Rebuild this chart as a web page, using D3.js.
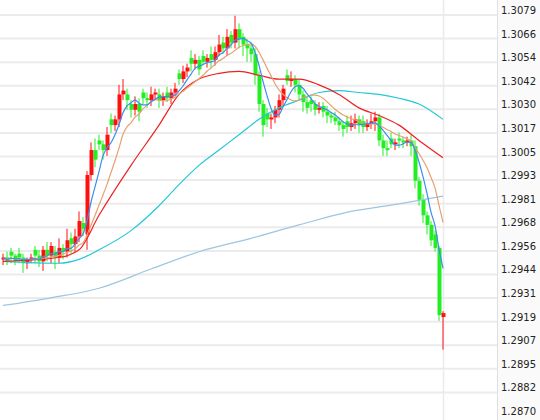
<!DOCTYPE html>
<html><head><meta charset="utf-8">
<script src="https://cdn.jsdelivr.net/npm/d3@7"></script>
<style>body{margin:0;background:#fff}svg{display:block}</style></head>
<body><svg id="c" width="540" height="420"></svg>
<script>
const closes=[1.2950,1.2948,1.2951,1.2948,1.2950,1.2947,1.2949,1.2950,
1.2951,1.2948,1.2954,1.2951,1.2956,1.2950,1.2955,1.2953,1.2959,1.2957,
1.2961,1.2969,1.2965,1.2993,1.3006,1.3001,1.3009,1.3006,1.3014,1.3019,1.3022,
1.3035,1.3037,1.3032,1.3027,1.3030,1.3026,1.3033,1.3032,1.3035,1.3036,1.3032,1.3034,1.3033,
1.3036,1.3038,1.3043,1.3047,1.3049,1.3051,1.3053,1.3048,1.3052,1.3054,1.3053,1.3057,1.3061,
1.3059,1.3065,1.3062,1.3069,1.3064,1.3061,1.3059,1.3056,1.3045,1.3030,1.3019,1.3022,
1.3023,1.3027,1.3032,1.3038,1.3042,1.3043,1.3040,1.3035,1.3031,1.3028,1.3030,1.3027,
1.3028,1.3026,1.3024,1.3023,1.3021,1.3019,1.3017,1.3018,1.3020,1.3022,1.3019,1.3018,
1.3020,1.3021,1.3023,1.3011,1.3007,1.3006,1.3009,1.3010,1.3011,1.3010,1.3011,1.3008,
1.2990,1.2980,1.2972,1.2967,1.2959,1.2955,1.2920,1.2921];
// opens that differ from the previous close
const openOverrides={0:1.2949,2:1.2953,4:1.2952,8:1.2954,11:1.2954,13:1.2953,17:1.2960,20:1.2968,21:1.2962,
24:1.3011,27:1.3022,31:1.3035,32:1.3030,35:1.3036,39:1.3035,41:1.3036,44:1.3046,47:1.3054,50:1.3055,
52:1.3056,55:1.3062,57:1.3066,60:1.3065,66:1.3025,71:1.3045,77:1.3032,80:1.3029,86:1.3021,90:1.3021,
97:1.3012,99:1.3012,108:1.2962,110:1.2919};
const opens=closes.map((c,i)=>openOverrides[i]!==undefined?openOverrides[i]:closes[i-1]);
const wickUp=[2,3,2,1,3,2,1,2,2,3,2,4,2,3,5,2,6,3,4,5,3,2,4,6,3,2,4,3,2,5,6,3,2,4,3,2,3,4,2,3,2,3,
2,3,2,3,2,4,3,2,3,2,4,3,5,3,4,2,7,3,2,3,2,3,2,2,3,2,2,3,2,3,4,2,3,2,3,2,2,3,2,3,2,3,2,2,3,4,
3,2,3,2,4,3,2,3,4,3,2,3,2,2,3,3,2,3,2,2,2,1,1];
const wickDn=[3,2,4,2,3,5,3,2,4,3,5,3,4,6,3,4,3,5,4,3,4,8,3,4,3,5,3,4,3,4,3,5,4,3,5,3,4,3,3,4,3,2,
3,2,3,2,3,4,3,3,2,3,4,3,2,3,4,3,3,5,6,7,4,5,4,6,4,5,3,4,3,2,3,4,3,5,3,4,3,2,3,4,3,2,3,4,3,2,
3,4,3,2,3,5,3,4,3,2,3,4,3,2,5,4,3,4,5,3,2,3,17];
const maIdxA=[0,14,19,24,32,39,44,49,54,59,64,69,74,79,84,89,94,99,104,110];
const maSlow=[1.2948,1.2950,1.2954,1.2972,1.2998,1.3019,1.3035,1.3043,1.3046,1.3047,1.3045,1.3043,1.3043,1.3040,1.3035,1.3028,1.3024,1.3019,1.3011,1.3002];
const maLong=[1.2948,1.2947,1.2949,1.2954,1.2964,1.2977,1.2988,1.2998,1.3006,1.3014,1.3022,1.3028,1.3032,1.3036,1.3037,1.3036,1.3035,1.3033,1.3030,1.3022];
const maIdxB=[0,12,24,37,49,62,74,87,99,110];
const maBase=[1.2925,1.2929,1.2934,1.2944,1.2953,1.2960,1.2967,1.2974,1.2978,1.2982];
const ticks=[1.3079,1.3066,1.3054,1.3042,1.3030,1.3017,1.3005,1.2993,1.2981,1.2968,1.2956,1.2944,1.2931,1.2919,1.2907,1.2895,1.2882,1.2870];

const svg=d3.select("#c");
const x=d3.scaleLinear().domain([0,110]).range([3,443]);
const y=d3.scaleLinear().domain([1.2870,1.3079]).range([411,10]);
svg.append("rect").attr("x",497).attr("y",0).attr("width",43).attr("height",420).attr("fill","#fafafa");
svg.append("line").attr("x1",497.5).attr("x2",497.5).attr("y1",0).attr("y2",420).attr("stroke","#e0e0e0");
ticks.forEach((t,i)=>{
  const yy=10+i*(401/17);
  if(i<17) svg.append("line").attr("x1",0).attr("x2",497).attr("y1",yy+5).attr("y2",yy+5).attr("stroke","#ebebeb").attr("stroke-width",2);
  svg.append("text").attr("x",501).attr("y",yy+4).attr("font-family","Verdana, DejaVu Sans").attr("font-size",10).attr("fill","#222").text(t.toFixed(4));
});
svg.append("line").attr("x1",443.5).attr("x2",443.5).attr("y1",0).attr("y2",420).attr("stroke","#ebebeb").attr("stroke-width",1.5);

const g=svg.append("g");
closes.forEach((c,i)=>{
  const o=opens[i],up=c>=o,col=up?"#ff1010":"#22ee22";
  const hi=Math.max(o,c)+wickUp[i]*1e-4,lo=Math.min(o,c)-wickDn[i]*1e-4;
  g.append("line").attr("x1",x(i)).attr("x2",x(i)).attr("y1",y(hi)).attr("y2",y(lo)).attr("stroke",col).attr("stroke-width",1);
  const t=Math.min(y(o),y(c)),h=Math.max(2,Math.abs(y(o)-y(c)));
  g.append("rect").attr("x",x(i)-1.5).attr("y",t).attr("width",4).attr("height",h).attr("fill",col);
});
function ma(n){return closes.map((c,i)=>{const s=closes.slice(Math.max(0,i-n+1),i+1);return d3.mean(s);});}
const line=d3.line().x(d=>x(d[0])).y(d=>y(d[1])).curve(d3.curveMonotoneX);
function draw(pts,col){svg.append("path").attr("d",line(pts)).attr("fill","none").attr("stroke",col).attr("stroke-width",1.2);}
draw(maIdxB.map((k,j)=>[k,maBase[j]]),"#9cc6e0");
draw(maIdxA.map((k,j)=>[k,maLong[j]]),"#22c8d8");
draw(maIdxA.map((k,j)=>[k,maSlow[j]]),"#ee2020");
draw(ma(10).map((v,i)=>[i,v]),"#e8a070");
draw(ma(5).map((v,i)=>[i,v]),"#3a8ef0");
</script></body></html>
